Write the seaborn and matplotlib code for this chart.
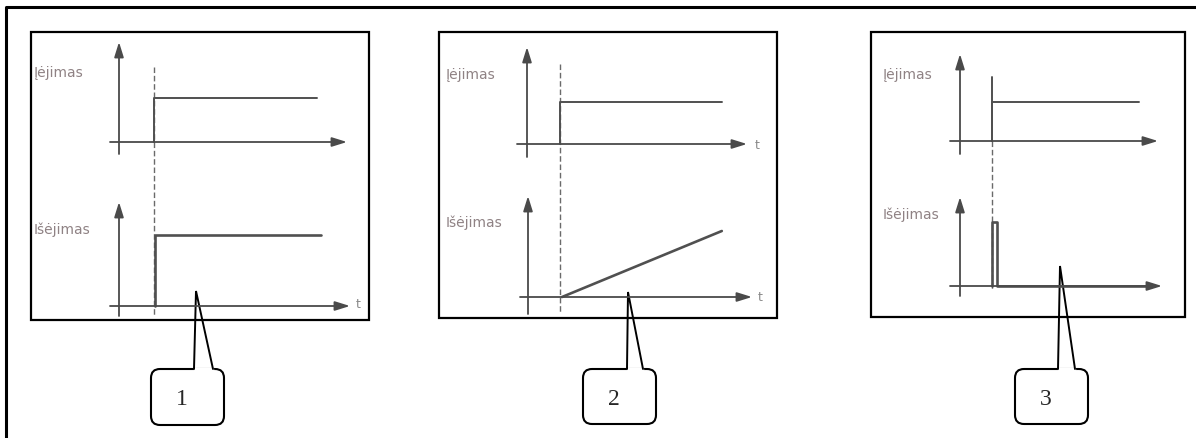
import pandas as pd
import matplotlib.pyplot as plt
import seaborn as sns
from matplotlib.patches import FancyBboxPatch, Rectangle

W, H = 1196, 439

# signal shapes, time in units of the step instant (t = 1), level 1 = full step
inp1_t = [1, 1, 5.66]
inp1_y = [0, 1, 1]
out1_t = [1, 1, 5.6]
out1_y = [0, 1, 1]

inp2_t = [1, 1, 5.9]
inp2_y = [0, 1, 1]
out2_t = [1, 5.7]
out2_y = [0, 1]

inp3_t = [1, 1, 1, 5.6]
inp3_y = [1.65, 0, 1, 1]
out3_t = [1.0, 1.0, 1.15, 1.15, 6.0]
out3_y = [0, 1, 1, 0, 0]

in_label = "Įėjimas"
out_label = "Išėjimas"
numbers = ["1", "2", "3"]

# pixel layout of each small diagram:
# origin x, origin y, px at t=1, px at level 1, x-axis start, x-axis tip, y-axis tip, y-axis bottom
layout = [
    dict(inp=(119, 143, 154, 99, 110, 347, 43, 155), out=(119, 307, 155, 236, 110, 350, 203, 317),
         lab_x=34, lab_in_y=73, lab_out_y=230, t_top=None, t_bot=(358, 305),
         frame=(31, 33, 369, 321), guide=(154, 68, 317),
         box=(151, 370, 224, 426), ptr=(194, 213), tip=(196, 292)),
    dict(inp=(527, 145, 560, 103, 517, 747, 48, 158), out=(528, 298, 562, 232, 520, 752, 197, 315),
         lab_x=446, lab_in_y=75, lab_out_y=223, t_top=(757, 146), t_bot=(760, 298),
         frame=(439, 33, 777, 319), guide=(560, 65, 315),
         box=(583, 370, 656, 425), ptr=(627, 643), tip=(628, 293)),
    dict(inp=(960, 142, 992, 103, 950, 1158, 55, 155), out=(960, 287, 992, 223, 950, 1162, 198, 297),
         lab_x=883, lab_in_y=75, lab_out_y=215, t_top=None, t_bot=None,
         frame=(871, 33, 1185, 318), guide=(992, 142, 290),
         box=(1015, 370, 1088, 425), ptr=(1058, 1075), tip=(1060, 267)),
]
signals = [((inp1_t, inp1_y), (out1_t, out1_y)),
           ((inp2_t, inp2_y), (out2_t, out2_y)),
           ((inp3_t, inp3_y), (out3_t, out3_y))]

sns.set_theme(style="white")
plt.rcParams['font.family'] = ['DejaVu Sans']

AX_COLOR = "#4a4a4a"
SIG_COLOR = "#505050"
LAB_COLOR = "#8f8284"

fig = plt.figure(figsize=(W / 100, H / 100), dpi=100)
fig.patch.set_facecolor("white")

# overlay in pixel coordinates for frames, guides and callouts
base = fig.add_axes([0, 0, 1, 1])
base.set_xlim(0, W)
base.set_ylim(H, 0)
base.set_axis_off()

base.plot([6, 6, W], [H, 8, 8], color="black", lw=2.2, solid_capstyle="projecting")


def diagram_axes(geom, t, y, lw):
    ox, oy, x1, y1, xs, xt, yt, yb = geom
    sx = x1 - ox
    sy = oy - y1
    ax = fig.add_axes([xs / W, (H - yb) / H, (xt - xs) / W, (yb - yt) / H])
    ax.patch.set_alpha(0)
    xlim = ((xs - ox) / sx, (xt - ox) / sx)
    ylim = ((oy - yb) / sy, (oy - yt) / sy)
    ax.set_xlim(*xlim)
    ax.set_ylim(*ylim)
    ax.set_axis_off()
    arrow = dict(arrowstyle="-|>,head_length=0.9,head_width=0.28", color=AX_COLOR,
                 lw=1.3, shrinkA=0, shrinkB=0, mutation_scale=10)
    ax.annotate("", xy=(xlim[1], 0), xytext=(xlim[0], 0), arrowprops=arrow, annotation_clip=False)
    ax.annotate("", xy=(0, ylim[1]), xytext=(0, ylim[0]), arrowprops=arrow, annotation_clip=False)
    df = pd.DataFrame({"t": t, "y": y})
    sns.lineplot(data=df, x="t", y="y", ax=ax, sort=False, estimator=None,
                 color=SIG_COLOR, lw=lw)
    for line in ax.lines:
        line.set_clip_on(False)
    return ax


for i, (lay, (sig_in, sig_out)) in enumerate(zip(layout, signals)):
    x0, y0, x1, y1 = lay["frame"]
    base.add_patch(Rectangle((x0, y0), x1 - x0, y1 - y0, fill=False, ec="black", lw=1.6))

    gx, gy0, gy1 = lay["guide"]
    base.plot([gx, gx], [gy0, gy1], color="#6a6a6a", lw=1.0, ls=(0, (4, 2)))

    diagram_axes(lay["inp"], *sig_in, lw=1.4)
    diagram_axes(lay["out"], *sig_out, lw=1.9)

    base.text(lay["lab_x"], lay["lab_in_y"], in_label, color=LAB_COLOR, fontsize=10,
              ha="left", va="center")
    base.text(lay["lab_x"], lay["lab_out_y"], out_label, color=LAB_COLOR, fontsize=10,
              ha="left", va="center")
    for pos in (lay["t_top"], lay["t_bot"]):
        if pos is not None:
            base.text(pos[0], pos[1], "t", color="#8a8a8a", fontsize=9, ha="center", va="center")

    # callout bubble
    bx0, by0, bx1, by1 = lay["box"]
    base.add_patch(FancyBboxPatch((bx0, by0), bx1 - bx0, by1 - by0,
                                  boxstyle="round,pad=0,rounding_size=9",
                                  fc="white", ec="black", lw=1.5, zorder=3))
    pl, pr = lay["ptr"]
    base.plot([pl + 1, pr - 1], [by0, by0], color="white", lw=2.5, zorder=4)
    tx, ty = lay["tip"]
    base.plot([pl, tx, pr], [by0, ty, by0], color="black", lw=1.4, zorder=5,
              solid_joinstyle="miter")
    base.text((bx0 + bx1) / 2 - 6, (by0 + by1) / 2 + 2, numbers[i], fontsize=17,
              family="Liberation Serif", ha="center", va="center", zorder=6)

fig.savefig("out.png", dpi=100)
